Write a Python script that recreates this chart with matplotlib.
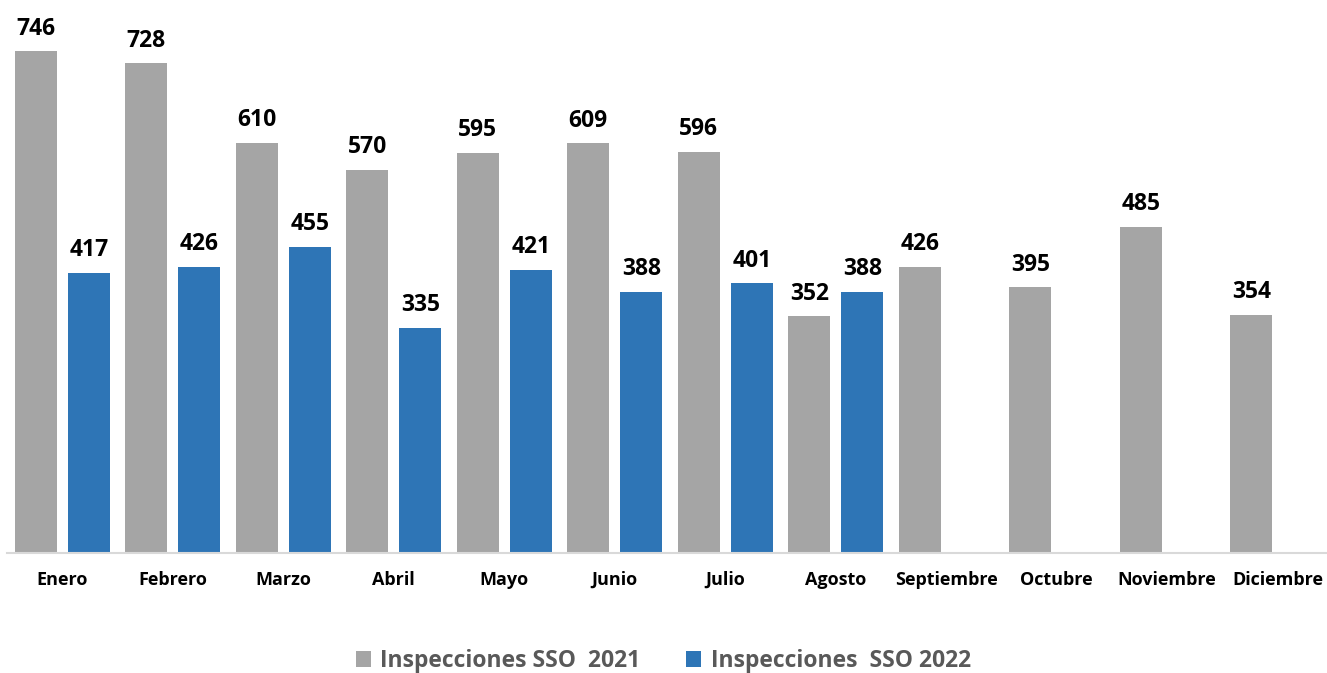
import matplotlib.pyplot as plt
import numpy as np

plt.rcParams['font.family'] = ['Open Sans', 'DejaVu Sans']

months = ['Enero', 'Febrero', 'Marzo', 'Abril', 'Mayo', 'Junio', 'Julio',
          'Agosto', 'Septiembre', 'Octubre', 'Noviembre', 'Diciembre']
insp_2021 = [746, 728, 610, 570, 595, 609, 596, 352, 426, 395, 485, 354]
insp_2022 = [417, 426, 455, 335, 421, 388, 401, 388]

gray = '#A5A5A5'
blue = '#2E75B6'

W, H = 1327, 673
fig = plt.figure(figsize=(W / 100, H / 100), dpi=100)
ax = fig.add_axes([7 / W, 120 / H, 1326 / W, 538 / H])

x = np.arange(len(months))
width = 0.38
off = 0.24
b1 = ax.bar(x - off, insp_2021, width, color=gray, label='Inspecciones SSO  2021')
x2 = np.arange(len(insp_2022))
b2 = ax.bar(x2 + off, insp_2022, width, color=blue, label='Inspecciones  SSO 2022')

for xi, v in zip(x - off, insp_2021):
    ax.text(xi, v + 16, str(v), ha='center', va='bottom', fontsize=16.5,
            fontweight='bold', color='black')
for xi, v in zip(x2 + off, insp_2022):
    ax.text(xi, v + 16, str(v), ha='center', va='bottom', fontsize=16.5,
            fontweight='bold', color='black')

ax.set_xlim(-0.5, len(months) - 0.5)
ax.set_ylim(0, 800)
ax.set_xticks(x)
ax.set_xticklabels(months, fontsize=13, fontweight='bold')
ax.tick_params(axis='x', length=0, pad=13)
ax.set_yticks([])
for s in ['top', 'right', 'left']:
    ax.spines[s].set_visible(False)
ax.spines['bottom'].set_color('#D9D9D9')
ax.spines['bottom'].set_linewidth(1.5)

leg = fig.legend(handles=[b1, b2], loc='center', bbox_to_anchor=(0.5, 1 - 661 / H),
                 ncol=2, frameon=False, handlelength=0.65, handleheight=0.65,
                 handletextpad=0.4, columnspacing=2.0,
                 prop={'size': 16.5, 'weight': 'bold'})
for t in leg.get_texts():
    t.set_color('#595959')

fig.savefig('out.png', dpi=100)
